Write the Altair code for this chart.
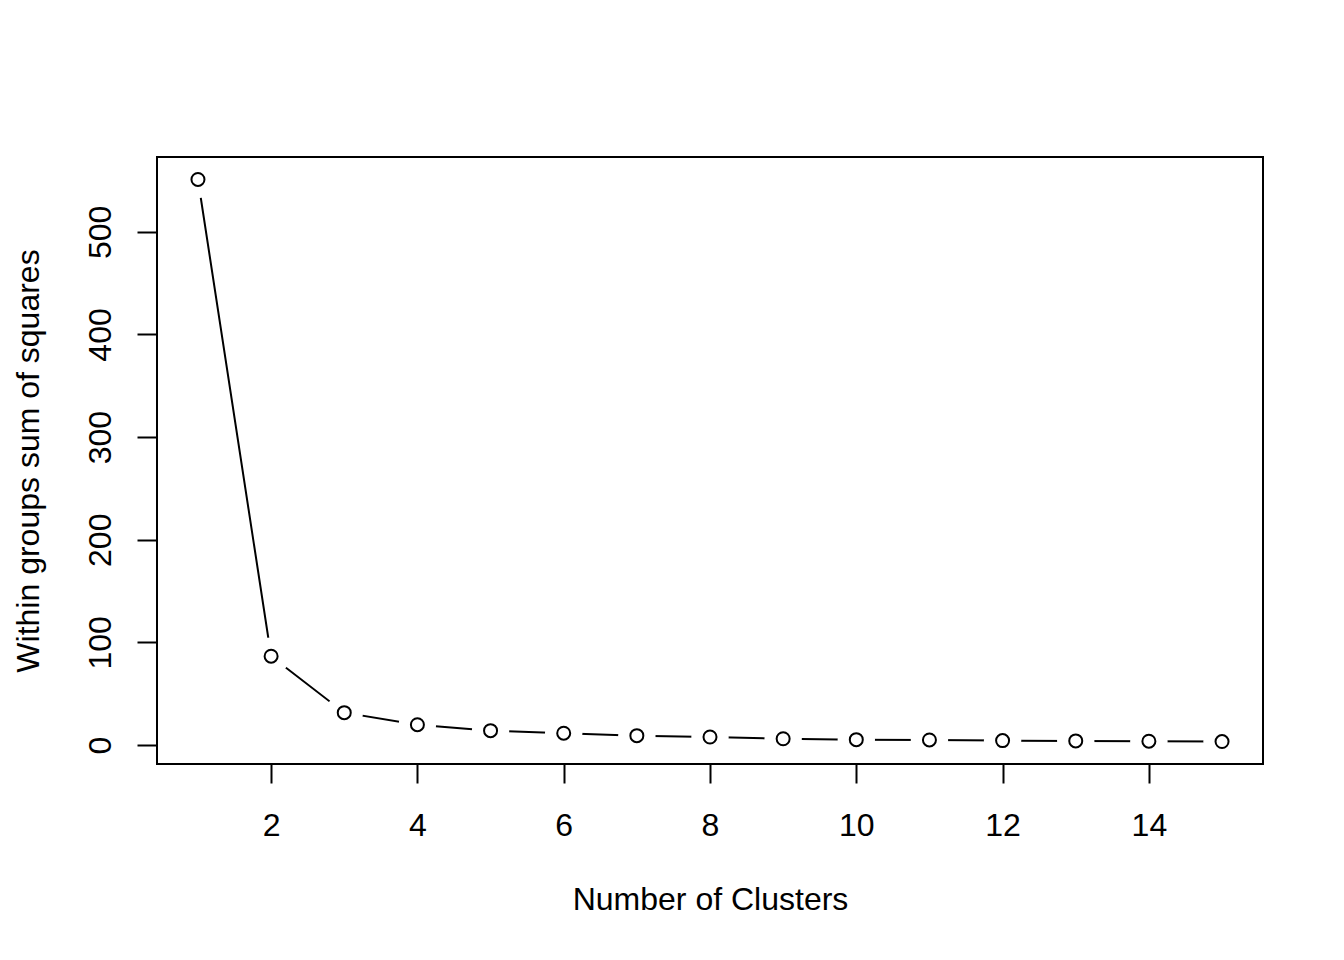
import altair as alt
import pandas as pd

# Data (elbow plot)
clusters = list(range(1, 16))
wss = [551.0, 86.5, 31.5, 19.8, 14.0, 11.5, 9.1, 7.8, 6.1, 5.2, 4.9, 4.3, 4.0, 3.7, 3.4]
x_ticks = [2, 4, 6, 8, 10, 12, 14]
y_ticks = [0, 100, 200, 300, 400, 500]

df = pd.DataFrame({"k": clusters, "wss": wss})

# R-style 4% axis extension
def r_range(vals):
    lo, hi = min(vals), max(vals)
    d = (hi - lo) * 0.04
    return [lo - d, hi + d]

xdom = r_range(clusters)
ydom = r_range(wss)

FONT = "Liberation Sans"

x_enc = alt.X(
    "k:Q",
    scale=alt.Scale(domain=xdom, nice=False, zero=False),
    axis=alt.Axis(
        values=x_ticks, title="Number of Clusters", format="d",
        tickSize=19, labelPadding=52, labelBaseline="alphabetic",
        labelOverlap=False, labelFlush=False,
        titleY=145.5, titleX=553, titleBaseline="alphabetic", titleAlign="center",
    ),
)
y_enc = alt.Y(
    "wss:Q",
    scale=alt.Scale(domain=ydom, nice=False, zero=False),
    axis=alt.Axis(
        values=y_ticks, title="Within groups sum of squares", format="d",
        tickSize=20, labelAngle=270, labelAlign="center", labelBaseline="alphabetic",
        labelPadding=27, labelOverlap=False, labelFlush=False,
        titleAngle=270, titleX=-119, titleY=303.5, titleBaseline="alphabetic",
        titleAlign="center",
    ),
)

base = alt.Chart(df).encode(x=x_enc, y=y_enc)

line = base.mark_line(color="black", strokeWidth=2)
mask = base.mark_point(shape="circle", filled=True, fill="white", opacity=1,
                       strokeWidth=0, size=1400)
pts = base.mark_point(shape="circle", filled=False, color="black", opacity=1,
                      strokeWidth=2, size=169)

chart = (
    alt.layer(line, mask, pts)
    .properties(
        width=1106, height=607,
        autosize=alt.AutoSizeParams(type="none"),
        padding={"left": 149, "top": 149, "right": 60, "bottom": 190},
        background="white",
    )
    .configure_view(stroke="black", strokeWidth=2)
    .configure_axis(
        grid=False, domain=False,
        tickColor="black", tickWidth=2,
        labelFont=FONT, labelFontSize=32, labelColor="black",
        titleFont=FONT, titleFontSize=32, titleColor="black", titleFontWeight="normal",
    )
)

chart.save("out.html", embed_options={"renderer": "svg", "actions": False})
